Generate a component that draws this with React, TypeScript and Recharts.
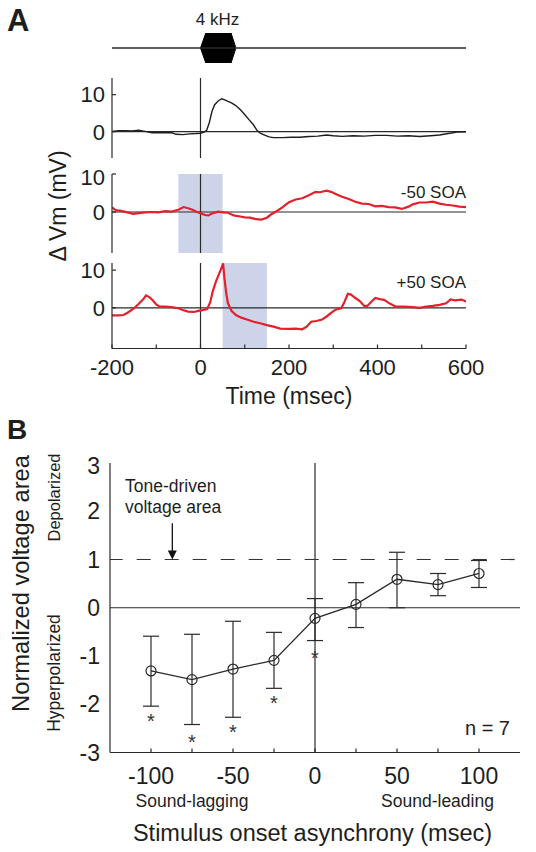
import React from 'react';
import {
  LineChart, Line, XAxis, YAxis, ReferenceLine, ReferenceArea, ComposedChart,
  Area, ErrorBar, Scatter, ReferenceDot,
} from 'recharts';

const FONT = '"Liberation Sans", Arial, Helvetica, sans-serif';
const INK = '#1e1e1e';
const RED = '#e3202b';
const SHADE = '#cdd4ea';

// ---------- Panel A ----------
const timeDomain: [number, number] = [-200, 600];
const timeTicks = [-200, -100, 0, 100, 200, 300, 400, 500, 600];
const mvTicks = [0, 10];

// 4 kHz tone envelope (ms, arbitrary units)
const toneTime = [0, 12, 69, 80];
const toneLow = [0, -1, -1, 0];
const toneHigh = [0, 1, 1, 0];

// tone alone (black)
const toneAloneT = [-200, -185, -170, -155, -140, -125, -110, -95, -80, -65, -55, -40, -25, -10, 0, 8, 14, 20, 26, 32, 40, 48, 55, 62, 70, 78, 88, 98, 110, 120, 128, 135, 145, 155, 165, 185, 205, 225, 245, 265, 285, 300, 320, 345, 370, 395, 420, 445, 470, 495, 520, 540, 560, 580, 600];
const toneAloneMv = [0.1, 0.3, 0.3, 0.2, 0.4, 0.1, -0.3, -0.3, -0.2, -0.3, -0.7, -0.8, -0.6, -0.5, -0.4, -0.1, 0.4, 2.5, 5.5, 7.3, 8.3, 8.9, 8.6, 8.2, 7.8, 7.2, 6.2, 4.9, 3.2, 1.8, 0.3, -0.4, -0.9, -1.4, -1.6, -1.6, -1.5, -1.5, -1.3, -1.2, -0.9, -1.1, -1.25, -1.1, -1.2, -1.0, -1.0, -1.2, -1.1, -1.3, -1.1, -0.9, -0.5, -0.1, 0.0];

// -50 SOA (red)
const soaMinusT = [-200, -192, -180, -165, -152, -140, -125, -110, -95, -80, -65, -50, -38, -28, -18, -8, 0, 10, 18, 28, 40, 50, 62, 75, 90, 100, 112, 125, 138, 150, 160, 172, 185, 200, 215, 230, 245, 260, 270, 285, 295, 308, 320, 335, 350, 365, 380, 395, 410, 425, 440, 455, 470, 480, 495, 510, 525, 540, 555, 570, 585, 600];
const soaMinusMv = [1.2, 0.5, 0.3, -0.1, -0.5, -0.3, -0.1, 0.0, -0.1, 0.2, 0.1, 0.6, 1.3, 1.0, 0.6, 0.0, -0.3, -0.8, -0.9, -0.3, 0.1, -0.1, -0.2, -0.9, -1.2, -1.4, -1.5, -1.9, -2.0, -1.5, -0.6, 0.2, 1.2, 2.6, 3.3, 3.6, 4.4, 5.3, 5.2, 5.6, 5.3, 4.6, 4.0, 3.4, 2.7, 2.2, 2.1, 1.5, 1.6, 1.3, 1.2, 0.8, 1.4, 2.0, 2.5, 2.5, 2.7, 2.2, 1.9, 1.7, 1.4, 1.3];

// +50 SOA (red)
const soaPlusT = [-200, -185, -174, -165, -152, -140, -130, -123, -115, -108, -100, -93, -80, -65, -50, -40, -28, -15, -5, 5, 15, 22, 28, 35, 42, 48, 51, 54, 58, 62, 70, 80, 92, 105, 120, 135, 150, 165, 180, 200, 215, 230, 240, 250, 262, 275, 285, 296, 305, 318, 325, 333, 340, 350, 360, 370, 377, 385, 395, 405, 415, 425, 440, 460, 480, 495, 510, 525, 540, 555, 565, 575, 590, 600];
const soaPlusMv = [-2.0, -2.0, -1.9, -1.3, -0.3, 1.0, 2.2, 3.3, 2.8, 2.0, 0.9, 0.4, 0.3, 0.2, -0.1, -0.6, -1.0, -1.1, -0.8, -0.6, -0.3, 1.5, 4.5, 7.0, 9.0, 10.8, 11.8, 8.0, 4.0, 1.2, -0.8, -1.9, -2.6, -3.1, -3.7, -4.1, -4.6, -5.0, -5.5, -5.6, -5.5, -5.7, -5.0, -3.7, -3.5, -3.1, -2.3, -1.3, -0.5, -0.1, 1.5, 3.7, 3.5, 2.6, 1.8, 0.5, 0.5, 1.5, 2.6, 2.3, 2.1, 1.3, 0.4, 0.3, 0.2, 0.0, 0.3, 0.5, 0.8, 1.2, 2.2, 2.0, 2.2, 1.7];

const shadeMinus = [-50, 50];
const shadePlus = [50, 150];

// ---------- Panel B ----------
const soaValues = [-100, -75, -50, -25, 0, 25, 50, 75, 100];
const meanArea = [-1.31, -1.49, -1.27, -1.09, -0.22, 0.07, 0.59, 0.48, 0.71];
const errTop = [-0.59, -0.55, -0.28, -0.51, 0.19, 0.52, 1.15, 0.71, 0.98];
const errBottom = [-2.04, -2.42, -2.27, -1.67, -0.68, -0.41, 0.0, 0.25, 0.42];
const starY: (number | null)[] = [-2.27, -2.69, -2.5, -1.9, -0.95, null, null, null, null];
const soaTicks = [-100, -75, -50, -25, 0, 25, 50, 75, 100];
const areaTicks = [-3, -2, -1, 0, 1, 2, 3];
const toneLevel = 1;
const arrowX = -87;

const toneData = toneTime.map((t, i) => ({ t, range: [toneLow[i], toneHigh[i]] }));
const mk = (ts: number[], vs: number[]) => ts.map((t, i) => ({ t, v: vs[i] }));
const bData = soaValues.map((s, i) => ({
  soa: s,
  mean: meanArea[i],
  err: [meanArea[i] - errBottom[i], errTop[i] - meanArea[i]],
  star: starY[i],
}));

const axisStroke = '#2a2a2a';

type TraceProps = {
  top: number; height: number; mTop: number; mBottom: number;
  data: { t: number; v: number }[]; color: string; width: number;
  domain: [number, number]; shade?: number[]; showX?: boolean;
};

function Trace({ top, height, mTop, mBottom, data, color, width, domain, shade, showX }: TraceProps) {
  return (
    <div style={{ position: 'absolute', left: 0, top, width: 536, height }}>
      <LineChart width={536} height={height} data={data}
        margin={{ top: mTop, bottom: mBottom, left: 62, right: 70 }}>
        <XAxis dataKey="t" type="number" domain={timeDomain} ticks={timeTicks}
          allowDataOverflow hide={!showX} height={40}
          tickSize={-4} tickMargin={14.5}
          tickFormatter={(v: number) => (v % 200 === 0 ? String(v) : '')}
          tick={{ fontSize: 22, fill: INK, fontFamily: FONT }}
          stroke={axisStroke} strokeWidth={1.2} />
        <YAxis type="number" domain={domain} ticks={mvTicks} allowDataOverflow width={50}
          tickSize={-4} tickMargin={11}
          tick={{ fontSize: 22, fill: INK, fontFamily: FONT }}
          stroke={axisStroke} strokeWidth={1.2} />
        {shade && (
          <ReferenceArea x1={shade[0]} x2={shade[1]} fill={SHADE} fillOpacity={1} stroke="none" />
        )}
        <ReferenceLine y={0} stroke={axisStroke} strokeWidth={1.2} />
        <ReferenceLine x={0} stroke={axisStroke} strokeWidth={1.2} />
        <Line dataKey="v" type="linear" stroke={color} strokeWidth={width}
          dot={false} isAnimationActive={false} />
      </LineChart>
    </div>
  );
}

const StarShape = (p: any) => {
  if (p == null || p.payload == null || p.payload.star == null || !isFinite(p.cy)) return <g />;
  return (
    <text x={p.cx} y={p.cy + 11} textAnchor="middle" fontSize={20} fontFamily={FONT} fill="#333">*</text>
  );
};

const ArrowHead = (p: any) => (
  <polygon points={`${p.cx - 4.5},${p.cy - 9} ${p.cx + 4.5},${p.cy - 9} ${p.cx},${p.cy}`} fill="#111" />
);

export default function App() {
  return (
    <div style={{ position: 'absolute', left: 0, top: 0, width: 536, height: 852, background: '#fff', fontFamily: FONT }}>
      {/* tone bar */}
      <div style={{ position: 'absolute', left: 0, top: 23, width: 536, height: 50 }}>
        <ComposedChart width={536} height={50} data={toneData}
          margin={{ top: 10, bottom: 10, left: 112, right: 70 }}>
          <XAxis dataKey="t" type="number" domain={timeDomain} allowDataOverflow hide />
          <YAxis type="number" domain={[-1, 1]} allowDataOverflow hide />
          <ReferenceLine y={0} stroke={axisStroke} strokeWidth={1.3} />
          <Area dataKey="range" type="linear" fill="#000" fillOpacity={1} stroke="#000"
            strokeWidth={1} isAnimationActive={false} dot={false} activeDot={false} />
        </ComposedChart>
      </div>

      <Trace top={68} height={100} mTop={10} mBottom={10} data={mk(toneAloneT, toneAloneMv)}
        color={INK} width={1.4} domain={[-7.1, 14.5]} />
      <Trace top={164} height={99} mTop={10} mBottom={10} data={mk(soaMinusT, soaMinusMv)}
        color={RED} width={2.2} domain={[-10.8, 10]} shade={shadeMinus} />
      <Trace top={252.5} height={140.5} mTop={10} mBottom={5} data={mk(soaPlusT, soaPlusMv)}
        color={RED} width={2.2} domain={[-10.8, 11.9]} shade={shadePlus} showX />

      {/* Panel B */}
      <div style={{ position: 'absolute', left: 0, top: 452.5, width: 536, height: 344.5 }}>
        <ComposedChart width={536} height={344.5} data={bData}
          margin={{ top: 10, bottom: 5, left: 60, right: 16 }}>
          <XAxis dataKey="soa" type="number" domain={[-125, 125]} ticks={soaTicks} allowDataOverflow
            height={40} tickSize={-4} tickMargin={18.7}
            tickFormatter={(v: number) => (v % 50 === 0 ? String(v) : '')}
            tick={{ fontSize: 23, fill: INK, fontFamily: FONT }}
            stroke={axisStroke} strokeWidth={1.2} />
          <YAxis type="number" domain={[-3, 3]} ticks={areaTicks} allowDataOverflow width={50}
            tickSize={0} tickLine={false} tickMargin={10}
            tick={{ fontSize: 23, fill: INK, fontFamily: FONT }}
            stroke={axisStroke} strokeWidth={1.2} />
          <ReferenceLine y={0} stroke={axisStroke} strokeWidth={1.2} />
          <ReferenceLine x={0} stroke={axisStroke} strokeWidth={1.2} />
          <ReferenceLine y={toneLevel} stroke="#333" strokeWidth={1.2}
            strokeDasharray="14 14" strokeDashoffset={1.3} />
          <ReferenceLine segment={[{ x: arrowX, y: 1.75 }, { x: arrowX, y: 1.12 }]}
            stroke="#111" strokeWidth={1.3} />
          <ReferenceDot x={arrowX} y={toneLevel} shape={ArrowHead} />
          <Line dataKey="mean" type="linear" stroke="#2a2a2a" strokeWidth={1.3}
            dot={{ r: 5, fill: 'none', stroke: '#2a2a2a', strokeWidth: 1.2 }}
            activeDot={false} isAnimationActive={false}>
            <ErrorBar dataKey="err" width={8} stroke="#2a2a2a" strokeWidth={1.2} direction="y" />
          </Line>
          <Scatter dataKey="star" shape={StarShape} isAnimationActive={false} />
        </ComposedChart>
      </div>

      {/* text labels */}
      <svg width={536} height={852} style={{ position: 'absolute', left: 0, top: 0, pointerEvents: 'none' }}
        fontFamily={FONT} fill={INK}>
        <text x={7} y={31} fontSize={31} fontWeight="bold">A</text>
        <text x={217.5} y={25} fontSize={17} textAnchor="middle">4 kHz</text>
        <text transform="translate(66,206) rotate(-90)" fontSize={23} textAnchor="middle">Δ Vm (mV)</text>
        <text x={466} y={198} fontSize={17} textAnchor="end">-50 SOA</text>
        <text x={466} y={288} fontSize={17} textAnchor="end">+50 SOA</text>
        <text x={289} y={404} fontSize={23} textAnchor="middle">Time (msec)</text>

        <text x={7} y={439} fontSize={28} fontWeight="bold">B</text>
        <text transform="translate(29,583.5) rotate(-90)" fontSize={23.7} textAnchor="middle">Normalized voltage area</text>
        <text transform="translate(60,497.5) rotate(-90)" fontSize={16.5} textAnchor="middle">Depolarized</text>
        <text transform="translate(60,673) rotate(-90)" fontSize={17.5} textAnchor="middle">Hyperpolarized</text>
        <text x={125} y={492} fontSize={17.5}>Tone-driven</text>
        <text x={125} y={512.5} fontSize={17.5}>voltage area</text>
        <text x={510} y={735} fontSize={20} textAnchor="end">n = 7</text>
        <text x={192} y={807} fontSize={17.5} textAnchor="middle">Sound-lagging</text>
        <text x={437.5} y={807} fontSize={17.5} textAnchor="middle">Sound-leading</text>
        <text x={312.5} y={841} fontSize={23.5} textAnchor="middle">Stimulus onset asynchrony (msec)</text>
      </svg>
    </div>
  );
}
